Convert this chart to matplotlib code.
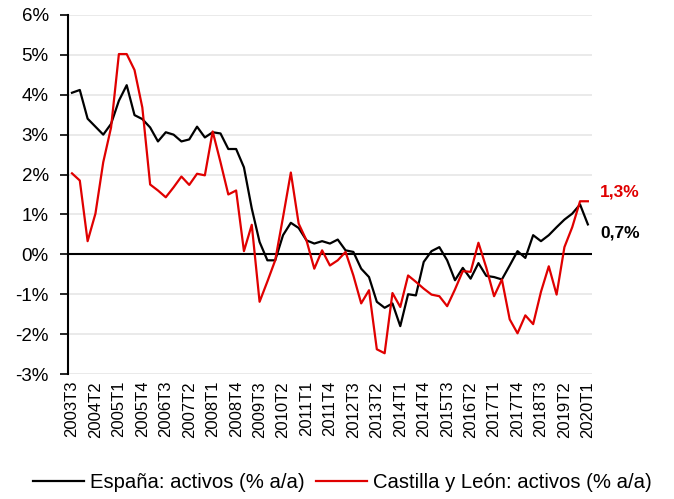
import matplotlib
matplotlib.use("Agg")
import matplotlib.pyplot as plt
import numpy as np

plt.rcParams['font.family'] = ['Liberation Sans', 'DejaVu Sans']

# Quarters 2003T3 .. 2020T1
quarters = []
y, q = 2003, 3
while (y, q) <= (2020, 1):
    quarters.append(f"{y}T{q}")
    q += 1
    if q > 4:
        q = 1
        y += 1

espana = [4.05, 4.12, 3.40, 3.20, 3.00, 3.27, 3.85, 4.24, 3.49, 3.39,
          3.18, 2.83, 3.06, 3.00, 2.83, 2.88, 3.20, 2.93, 3.06, 3.03,
          2.64, 2.64, 2.18, 1.15, 0.31, -0.15, -0.15, 0.48, 0.79, 0.66,
          0.35, 0.27, 0.33, 0.27, 0.37, 0.10, 0.06, -0.36, -0.57, -1.19,
          -1.34, -1.23, -1.80, -1.00, -1.03, -0.19, 0.08, 0.18, -0.15, -0.65,
          -0.34, -0.61, -0.22, -0.54, -0.57, -0.63, -0.28, 0.08, -0.09, 0.48,
          0.33, 0.48, 0.68, 0.87, 1.02, 1.25, 0.75]

castilla = [2.03, 1.85, 0.33, 1.02, 2.31, 3.18, 5.02, 5.02, 4.62, 3.68,
            1.75, 1.60, 1.43, 1.68, 1.95, 1.74, 2.02, 1.98, 3.08, 2.31,
            1.50, 1.60, 0.08, 0.74, -1.19, -0.68, -0.15, 0.93, 2.05, 0.77,
            0.35, -0.36, 0.10, -0.28, -0.15, 0.06, -0.53, -1.23, -0.90, -2.38,
            -2.48, -0.97, -1.32, -0.53, -0.69, -0.86, -1.01, -1.05, -1.30, -0.88,
            -0.42, -0.44, 0.29, -0.33, -1.05, -0.63, -1.63, -1.98, -1.53, -1.75,
            -0.94, -0.30, -1.01, 0.18, 0.68, 1.33, 1.33]

yticks = [-3, -2, -1, 0, 1, 2, 3, 4, 5, 6]
label_es = "España: activos (% a/a)"
label_cl = "Castilla y León: activos (% a/a)"
end_cl = "1,3%"
end_es = "0,7%"

fig = plt.figure(figsize=(6.74, 4.99), dpi=100)
ax = fig.add_axes([0.101, 0.2505, 0.777, 0.7195])

x = np.arange(len(quarters))
red = '#E00000'
ax.plot(x, espana, color='black', lw=1.6, label=label_es, zorder=3)
ax.plot(x, castilla, color=red, lw=1.6, label=label_cl, zorder=3)

ax.set_xlim(-0.5, len(quarters) - 0.5)
ax.set_ylim(-3, 6)
ax.set_yticks(yticks)
ax.set_yticklabels([f"{v}%" for v in yticks], fontsize=13.5)
ax.yaxis.grid(True, color='#e6e6e6', lw=1.2)
ax.set_axisbelow(True)
ax.axhline(0, color='black', lw=1.5, zorder=2)

ax.set_xticks(x[::3])
ax.set_xticklabels(quarters[::3], rotation=90, fontsize=12)
ax.tick_params(axis='x', length=0, pad=5)
ax.tick_params(axis='y', length=6, width=1.2, direction='out', pad=8)

for s in ['top', 'right', 'bottom']:
    ax.spines[s].set_visible(False)
ax.spines['left'].set_linewidth(1.5)

ax.annotate(end_cl, xy=(1.0, 1.33), xycoords=('axes fraction', 'data'),
            xytext=(6, 1), textcoords='offset points', color=red,
            fontsize=12.5, fontweight='bold', va='bottom', ha='left')
ax.annotate(end_es, xy=(1.0, 0.75), xycoords=('axes fraction', 'data'),
            xytext=(6, -1), textcoords='offset points', color='black',
            fontsize=12.5, fontweight='bold', va='top', ha='left')

fig.legend(loc='lower center', bbox_to_anchor=(0.508, -0.022), ncol=2, frameon=False,
           fontsize=14.6, handlelength=2.5, columnspacing=0.6, handletextpad=0.3)

fig.savefig('out.png', dpi=100)
